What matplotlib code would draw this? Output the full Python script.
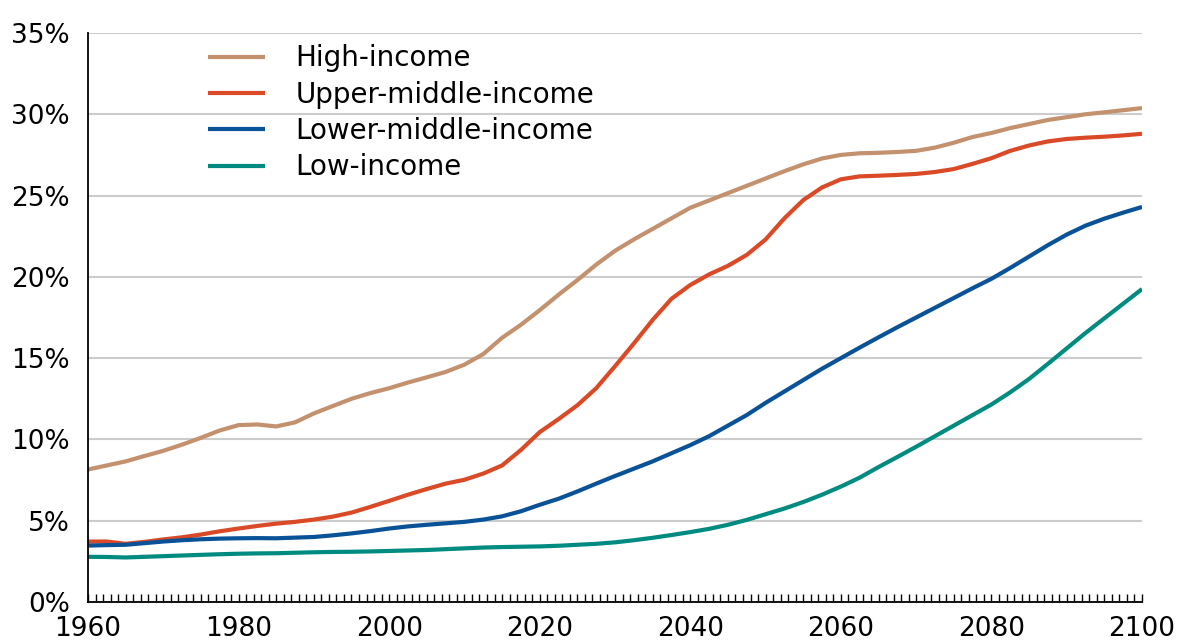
import numpy as np
import matplotlib
matplotlib.use("Agg")
import matplotlib.pyplot as plt
from matplotlib.ticker import MultipleLocator, FuncFormatter

# share of population (%), every 2.5 years, 1960-2100
years = np.arange(1960, 2100.1, 2.5)

high = [8.15, 8.4, 8.65, 8.98,
        9.3, 9.68, 10.1, 10.55,
        10.88, 10.92, 10.8, 11.05,
        11.6, 12.05, 12.5, 12.85,
        13.15, 13.5, 13.82, 14.15,
        14.6, 15.25, 16.25, 17.05,
        17.95, 18.9, 19.8, 20.75,
        21.6, 22.3, 22.95, 23.6,
        24.25, 24.7, 25.15, 25.6,
        26.05, 26.5, 26.92, 27.28,
        27.5, 27.6, 27.63, 27.68,
        27.75, 27.95, 28.25, 28.6,
        28.85, 29.15, 29.4, 29.65,
        29.82, 30.0, 30.12, 30.25,
        30.38]
upper_mid = [3.72, 3.72, 3.58, 3.7,
             3.85, 3.98, 4.15, 4.35,
             4.52, 4.68, 4.82, 4.93,
             5.07, 5.25, 5.5, 5.85,
             6.22, 6.6, 6.95, 7.28,
             7.52, 7.9, 8.4, 9.35,
             10.45, 11.25, 12.1, 13.15,
             14.5, 15.9, 17.35, 18.65,
             19.5, 20.15, 20.68, 21.35,
             22.3, 23.6, 24.72, 25.5,
             26.0, 26.18, 26.22, 26.27,
             26.33, 26.45, 26.63, 26.95,
             27.3, 27.75, 28.08, 28.33,
             28.48, 28.56, 28.62, 28.7,
             28.8]
lower_mid = [3.47, 3.5, 3.52, 3.62,
             3.72, 3.8, 3.86, 3.9,
             3.92, 3.93, 3.92, 3.96,
             4.0, 4.1, 4.22, 4.36,
             4.52, 4.65, 4.75, 4.84,
             4.93, 5.07, 5.27, 5.58,
             5.98, 6.35, 6.8, 7.28,
             7.75, 8.2, 8.65, 9.15,
             9.65, 10.2, 10.85, 11.5,
             12.25, 12.95, 13.65, 14.35,
             15.0, 15.65, 16.28, 16.9,
             17.5, 18.1, 18.7, 19.3,
             19.88, 20.55, 21.25, 21.95,
             22.6, 23.15, 23.58, 23.95,
             24.3]
low = [2.78, 2.77, 2.74, 2.78,
       2.82, 2.86, 2.9, 2.94,
       2.97, 2.99, 3.0, 3.03,
       3.06, 3.08, 3.09, 3.11,
       3.14, 3.17, 3.2, 3.25,
       3.3, 3.35, 3.38, 3.4,
       3.42, 3.46, 3.52, 3.58,
       3.67, 3.8, 3.95, 4.12,
       4.3, 4.5, 4.75, 5.05,
       5.4, 5.75, 6.15, 6.6,
       7.1, 7.65, 8.3, 8.92,
       9.55, 10.2, 10.85, 11.5,
       12.15, 12.9, 13.72, 14.65,
       15.6, 16.55, 17.45, 18.35,
       19.25]

labels = ["High-income", "Upper-middle-income", "Lower-middle-income", "Low-income"]
colors = ["#C4916E", "#DA4A26", "#0A5297", "#008B80"]

plt.rcParams['font.family'] = ['DejaVu Sans']

fig = plt.figure(figsize=(11.81, 6.44), dpi=100)
ax = fig.add_axes([0.0745, 0.0652, 0.8925, 0.8836])

for vals, lab, col in zip([high, upper_mid, lower_mid, low], labels, colors):
    ax.plot(years, vals, color=col, lw=3, label=lab,
            solid_joinstyle='round', solid_capstyle='butt')

ax.set_xlim(1960, 2100)
ax.set_ylim(0, 35)

ax.yaxis.set_major_locator(MultipleLocator(5))
ax.yaxis.set_major_formatter(FuncFormatter(lambda v, p: f"{v:.0f}%"))
ax.xaxis.set_major_locator(MultipleLocator(20))
ax.xaxis.set_minor_locator(MultipleLocator(1))

ax.grid(axis='y', color='#CCCCCC', lw=1.5)
ax.set_axisbelow(True)

for s in ['top', 'right']:
    ax.spines[s].set_visible(False)
for s in ['left', 'bottom']:
    ax.spines[s].set_color('black')
    ax.spines[s].set_linewidth(1.3)

ax.tick_params(axis='y', length=0, pad=13, labelsize=19)
ax.tick_params(axis='x', which='both', direction='in', length=6, width=1,
               color='black', pad=10, labelsize=19)

ax.legend(loc='upper left', bbox_to_anchor=(0.114, 0.98), frameon=False,
          fontsize=20, handlelength=2.05, handletextpad=1.1,
          labelspacing=0.3, borderpad=0, borderaxespad=0)

fig.savefig("out.png", dpi=100)
